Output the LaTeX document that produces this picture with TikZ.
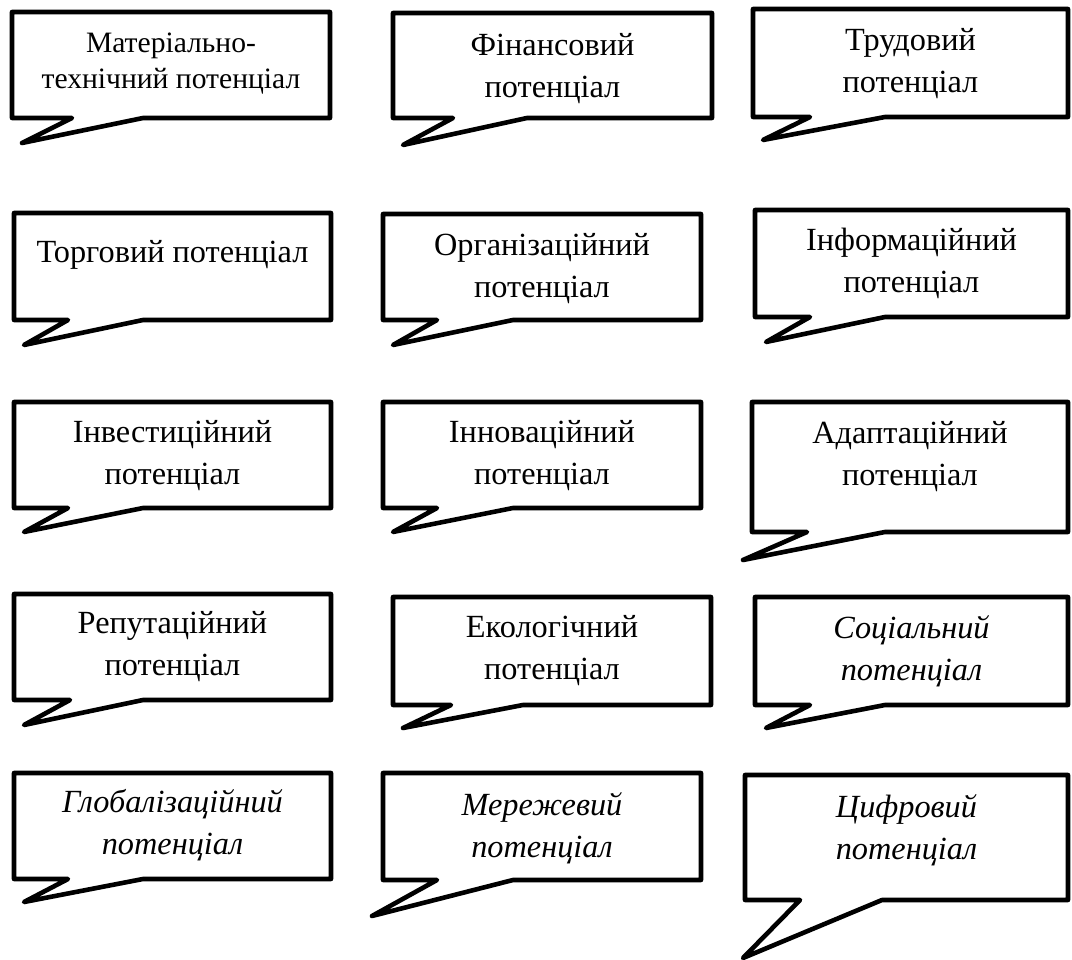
\documentclass[tikz,border=0pt]{standalone}
\usepackage{fontspec}
\setmainfont{Liberation Serif}

\begin{document}
\begin{tikzpicture}[x=1pt, y=-1pt,
    bubble/.style={draw=black, line width=4.6pt, line join=round, fill=white},
    txt/.style={anchor=north, inner sep=0pt, align=center, font=\fontsize{32.3}{42}\selectfont}]
\useasboundingbox (0,0) rectangle (1072,960);

% row 1
\draw[bubble] (12,12) -- (330,12) -- (330,118) -- (143,118) -- (22,143) -- (72,118) -- (12,118) -- cycle;
\node (mat) at (171,26.8) [txt, font=\fontsize{29.6}{36}\selectfont] {\strut Матеріально-\\технічний потенціал};

\draw[bubble] (393,13) -- (712,13) -- (712,118) -- (527,118) -- (403,145) -- (453,118) -- (393,118) -- cycle;
\node (fin) at (552.5,25.6) [txt] {\strut Фінансовий\\потенціал};

\draw[bubble] (753,9) -- (1068,9) -- (1068,117) -- (885,117) -- (763,140) -- (810,117) -- (753,117) -- cycle;
\node (trud) at (910.5,20.6) [txt] {\strut Трудовий\\потенціал};

% row 2
\draw[bubble] (14,213) -- (331,213) -- (331,320) -- (143,320) -- (24,345) -- (68,320) -- (14,320) -- cycle;
\node (torg) at (172.5,232.6) [txt] {\strut Торговий потенціал};

\draw[bubble] (383,214) -- (701,214) -- (701,320) -- (513,320) -- (393,345) -- (437,320) -- (383,320) -- cycle;
\node (org) at (542,225.6) [txt] {\strut Організаційний\\потенціал};

\draw[bubble] (755,210) -- (1068,210) -- (1068,317) -- (885,317) -- (766,342) -- (810,317) -- (755,317) -- cycle;
\node (inf) at (911.5,220.6) [txt] {\strut Інформаційний\\потенціал};

% row 3
\draw[bubble] (14,402) -- (331,402) -- (331,508) -- (143,508) -- (24,532) -- (68,508) -- (14,508) -- cycle;
\node (inv) at (172.5,412.6) [txt] {\strut Інвестиційний\\потенціал};

\draw[bubble] (383,402) -- (701,402) -- (701,508) -- (513,508) -- (393,532) -- (437,508) -- (383,508) -- cycle;
\node (inn) at (542,412.6) [txt] {\strut Інноваційний\\потенціал};

\draw[bubble] (752,402) -- (1068,402) -- (1068,532) -- (885,532) -- (743,560) -- (807,532) -- (752,532) -- cycle;
\node (adapt) at (910,413.6) [txt] {\strut Адаптаційний\\потенціал};

% row 4
\draw[bubble] (14,594) -- (331,594) -- (331,700) -- (143,700) -- (24,725) -- (70,700) -- (14,700) -- cycle;
\node (rep) at (172.5,603.6) [txt] {\strut Репутаційний\\потенціал};

\draw[bubble] (393,597) -- (711,597) -- (711,705) -- (523,705) -- (403,728) -- (451,705) -- (393,705) -- cycle;
\node (eko) at (552,607.6) [txt] {\strut Екологічний\\потенціал};

\draw[bubble] (755,597) -- (1068,597) -- (1068,705) -- (885,705) -- (766,728) -- (810,705) -- (755,705) -- cycle;
\node (soc) at (911.5,608.6) [txt, font=\fontsize{32.3}{42}\selectfont\itshape] {\strut Соціальний\\потенціал};

% row 5
\draw[bubble] (14,773) -- (331,773) -- (331,879) -- (143,879) -- (24,902) -- (68,879) -- (14,879) -- cycle;
\node (glob) at (172.5,782.6) [txt, font=\fontsize{32.3}{42}\selectfont\itshape] {\strut Глобалізаційний\\потенціал};

\draw[bubble] (383,773) -- (701,773) -- (701,880) -- (513,880) -- (372,916) -- (437,880) -- (383,880) -- cycle;
\node (mer) at (542,785.6) [txt, font=\fontsize{32.3}{42}\selectfont\itshape] {\strut Мережевий\\потенціал};

\draw[bubble] (745,775) -- (1068,775) -- (1068,900) -- (882,900) -- (743,958) -- (800,900) -- (745,900) -- cycle;
\node (cyf) at (906.5,787.6) [txt, font=\fontsize{32.3}{42}\selectfont\itshape] {\strut Цифровий\\потенціал};
\end{tikzpicture}
\end{document}
